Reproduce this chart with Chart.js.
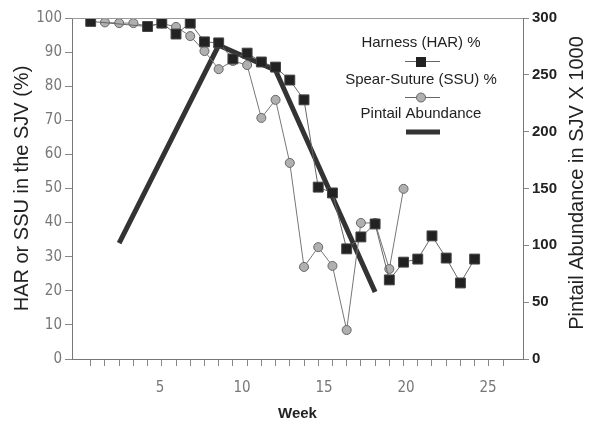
<!DOCTYPE html>
<html>
<head>
<meta charset="utf-8">
<script src="https://cdn.jsdelivr.net/npm/chart.js@4"></script>
<style>
  body { margin: 0; background: #fff; }
</style>
</head>
<body>
<canvas id="chart" width="591" height="428"></canvas>
<script>
// sample index (one per tick mark) and values
var harIdx = [0, 4, 5, 6, 7, 8, 9, 10, 11, 12, 13, 14, 15, 16, 17, 18, 19, 20, 21, 22, 23, 24, 25, 26, 27]
var harVal = [99, 97.5, 98.5, 95.3, 98.5, 93, 92.7, 88, 89.7, 87.1, 85.6, 81.8, 76, 50.4, 48.7, 32.3, 35.8, 39.6, 23.2, 28.4, 29.3, 36.1, 29.6, 22.3, 29.3]
var ssuIdx = [1, 2, 3, 4, 5, 6, 7, 8, 9, 10, 11, 12, 13, 14, 15, 16, 17, 18, 19, 20, 21, 22]
var ssuVal = [98.7, 98.5, 98.5, 97.6, 98.4, 97.4, 94.7, 90.3, 85, 87.4, 86.2, 70.7, 76, 57.5, 27, 32.8, 27.3, 8.5, 39.9, 39.9, 26.4, 49.9]
var pinIdx = [2, 9, 13, 20]
var pinVal = [102, 276, 254, 59]
var weekLabels = [5, 10, 15, 20, 25]
var leftTitle = 'HAR or SSU in the SJV (%)'
var rightTitle = 'Pintail Abundance in SJV X 1000'
var legendNames = ['Harness (HAR) %', 'Spear-Suture (SSU) %', 'Pintail Abundance']

function pts(xs, ys) {
    return xs.map(function (x, i) { return { x: x, y: ys[i] } })
}

var narrow = '"Liberation Sans Narrow", "DejaVu Sans Condensed", "Liberation Sans", Arial, sans-serif'
var sans = '"Liberation Sans", Arial, sans-serif'

// draws the top frame line, the upward right title and the in-plot legend
var extras = {
    id: 'extras',
    afterDraw: function (chart) {
        var c = chart.ctx, a = chart.chartArea
        c.save()
        c.strokeStyle = '#9a9a9a'
        c.lineWidth = 1
        c.beginPath()
        c.moveTo(a.left, a.top + 0.5)
        c.lineTo(a.right, a.top + 0.5)
        c.stroke()

        c.save()
        c.translate(577, 183)
        c.rotate(-Math.PI / 2)
        c.font = '20px ' + sans
        c.fillStyle = '#222'
        c.textAlign = 'center'
        c.textBaseline = 'middle'
        c.fillText(rightTitle, 0, 0)
        c.restore()

        var cx = 421
        c.font = '15px ' + sans
        c.fillStyle = '#222'
        c.textAlign = 'center'
        c.textBaseline = 'middle'
        c.fillText(legendNames[0], cx, 43)
        c.fillText(legendNames[1], cx, 80)
        c.fillText(legendNames[2], cx, 114)

        c.strokeStyle = '#666'
        c.lineWidth = 1
        c.beginPath(); c.moveTo(405, 61.5); c.lineTo(440, 61.5); c.stroke()
        c.fillStyle = '#222'
        c.fillRect(cx - 5, 57, 10, 10)
        c.beginPath(); c.moveTo(405, 97.5); c.lineTo(440, 97.5); c.stroke()
        c.fillStyle = '#b0b0b0'
        c.beginPath(); c.arc(cx, 97.5, 4.5, 0, Math.PI * 2); c.fill(); c.stroke()
        c.strokeStyle = '#333'
        c.lineWidth = 5
        c.beginPath(); c.moveTo(406, 132); c.lineTo(440, 132); c.stroke()
        c.restore()
    }
}

var ctx = document.getElementById('chart').getContext('2d')
var myChart = new Chart(ctx, {
    type: 'line',
    data: {
        datasets: [{
            label: legendNames[0],
            data: pts(harIdx, harVal),
            borderColor: '#666',
            borderWidth: 1,
            pointStyle: 'rect',
            pointRadius: 7,
            pointBackgroundColor: '#222',
            pointBorderColor: '#444',
            pointBorderWidth: 1,
            yAxisID: 'y',
            order: 1
        }, {
            label: legendNames[1],
            data: pts(ssuIdx, ssuVal),
            borderColor: '#777',
            borderWidth: 1,
            pointStyle: 'circle',
            pointRadius: 4.5,
            pointBackgroundColor: '#b0b0b0',
            pointBorderColor: '#666',
            pointBorderWidth: 1,
            yAxisID: 'y',
            order: 2
        }, {
            label: legendNames[2],
            data: pts(pinIdx, pinVal),
            borderColor: '#333',
            borderWidth: 5,
            pointRadius: 0,
            yAxisID: 'y2',
            order: 3
        }]
    },
    options: {
        responsive: false,
        animation: false,
        layout: { padding: { top: 18, left: 0, right: 0, bottom: 0 } },
        plugins: { legend: { display: false }, tooltip: { enabled: false } },
        scales: {
            x: {
                type: 'linear',
                position: 'bottom',
                weight: 0,
                min: -1.315,
                max: 30.4,
                afterBuildTicks: function (s) {
                    var t = []
                    for (var i = 0; i < 30; i++) t.push({ value: i })
                    s.ticks = t
                },
                afterFit: function (s) { s.height = 7 },
                ticks: { display: false },
                grid: { drawOnChartArea: false, tickLength: 7, color: '#888' },
                border: { color: '#777' }
            },
            xw: {
                type: 'linear',
                position: 'bottom',
                weight: 1,
                min: -0.37,
                max: 27.13,
                afterBuildTicks: function (s) {
                    s.ticks = weekLabels.map(function (v) { return { value: v } })
                },
                afterFit: function (s) { s.height = 62 },
                ticks: { color: '#777', font: { family: narrow, size: 15 }, padding: 5, maxRotation: 0 },
                grid: { display: false },
                border: { display: false },
                title: { display: true, text: 'Week', color: '#222', font: { family: sans, size: 15, weight: 'bold' }, padding: { top: 4, bottom: 5 } }
            },
            y: {
                position: 'left',
                min: 0,
                max: 100,
                ticks: { stepSize: 10, color: '#777', font: { family: narrow, size: 15 }, padding: 3 },
                afterFit: function (s) { s.width = 72 },
                grid: { drawOnChartArea: false, tickLength: 7, color: '#888' },
                border: { color: '#777' },
                title: { display: true, text: leftTitle, color: '#222', font: { family: sans, size: 20 }, padding: { top: 10, bottom: 4 } }
            },
            y2: {
                position: 'right',
                min: 0,
                max: 300,
                ticks: { stepSize: 50, color: '#222', font: { family: sans, size: 15, weight: 'bold' }, padding: 3 },
                afterFit: function (s) { s.width = 68 },
                grid: { drawOnChartArea: false, tickLength: 6, color: '#888' },
                border: { color: '#777' }
            }
        }
    },
    plugins: [extras]
})
</script>
</body>
</html>
